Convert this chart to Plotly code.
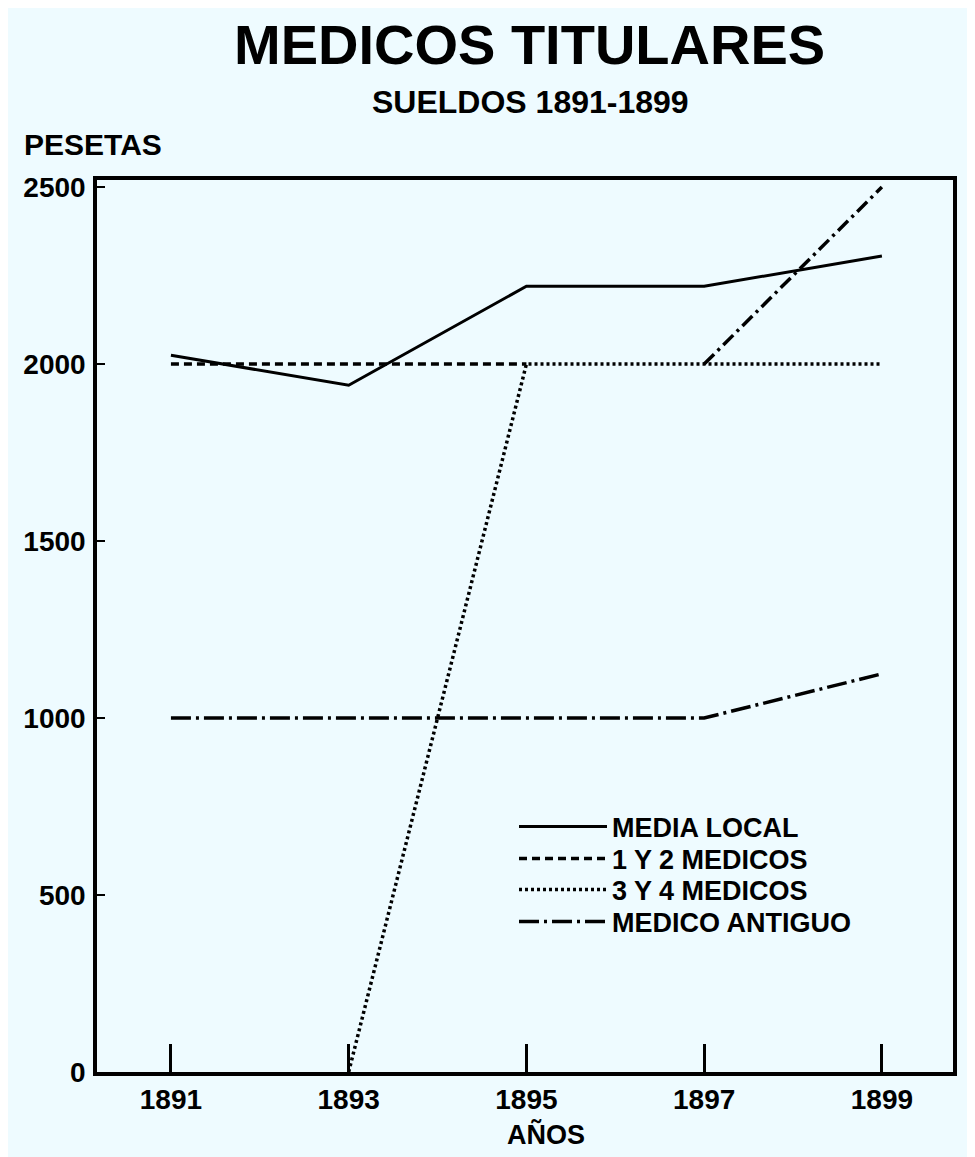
import plotly.graph_objects as go

# ---- data ----
years = [1891, 1893, 1895, 1897, 1899]
media_local = [2025, 1940, 2220, 2220, 2305]
uno_dos_medicos = [2000, 2000, 2000, None, None]
tres_cuatro_medicos = [None, 0, 2000, 2000, 2000]
medico_antiguo = [1000, 1000, 1000, 1000, 1125]
medico_antiguo_b = [None, None, None, 2000, 2500]
y_ticks = [0, 500, 1000, 1500, 2000, 2500]
x_ticks = [1891, 1893, 1895, 1897, 1899]

BG = "#eefbff"
FONT = "Liberation Sans"

W, H = 975, 1157
OFF = 8  # page body margin
L, T = 97 - OFF, 180 - OFF
R = W + OFF - 953
B = H + OFF - 1072
PW, PH = W - L - R, H - T - B


def px(xp):
    return (xp - OFF - L) / PW


def py(yp):
    return (H - B - (yp - OFF)) / PH


fig = go.Figure()
fig.add_trace(go.Scatter(x=years, y=media_local, mode="lines", name="MEDIA LOCAL",
                         legend="legend",
                         line=dict(color="black", width=3)))
fig.add_trace(go.Scatter(x=years, y=uno_dos_medicos, mode="lines", name="1 Y 2 MEDICOS",
                         legend="legend2",
                         line=dict(color="black", width=3.5, dash="8px,5px")))
fig.add_trace(go.Scatter(x=years, y=tres_cuatro_medicos, mode="lines", name="3 Y 4 MEDICOS",
                         legend="legend3",
                         line=dict(color="black", width=3.5, dash="3px,3px")))
fig.add_trace(go.Scatter(x=years, y=medico_antiguo, mode="lines", name="MEDICO ANTIGUO",
                         legend="legend4",
                         line=dict(color="black", width=3.5, dash="20px,5px,3px,5px")))
fig.add_trace(go.Scatter(x=years, y=medico_antiguo_b, mode="lines", name="MEDICO ANTIGUO",
                         showlegend=False,
                         line=dict(color="black", width=3.5, dash="14px,5px,3px,5px")))

legend_font = dict(family=FONT, size=27, weight="bold")


def leg(ypix):
    return dict(x=px(514), y=py(ypix), xanchor="left", yanchor="middle",
                bgcolor="rgba(0,0,0,0)", itemwidth=88, font=legend_font)


fig.update_layout(
    width=W, height=H,
    margin=dict(l=L, r=R, t=T, b=B),
    paper_bgcolor=BG,
    plot_bgcolor=BG,
    font=dict(family=FONT, color="black", size=28, weight="bold"),
    showlegend=True,
    legend=leg(827),
    legend2=leg(859),
    legend3=leg(890),
    legend4=leg(922),
    xaxis=dict(range=[1890.168, 1899.80], tickvals=x_ticks, ticktext=[str(v) for v in x_ticks],
               ticks="inside", ticklen=28, tickwidth=3, tickcolor="black",
               showline=True, linewidth=3.5, linecolor="black", mirror=True,
               showgrid=False, zeroline=False,
               tickfont=dict(family=FONT, size=28, weight="bold")),
    yaxis=dict(range=[0, 2520], tickvals=y_ticks, ticktext=[str(v) for v in y_ticks],
               ticks="inside", ticklen=8, tickwidth=2, tickcolor="black",
               showline=True, linewidth=3.5, linecolor="black", mirror=True,
               showgrid=False, zeroline=False, ticklabelstandoff=2,
               tickfont=dict(family=FONT, size=28, weight="bold")),
    annotations=[
        dict(text="MEDICOS TITULARES", x=px(529), y=py(44), xref="paper", yref="paper",
             xanchor="center", yanchor="middle", showarrow=False,
             font=dict(family=FONT, size=56, weight="bold")),
        dict(text="SUELDOS 1891-1899", x=px(530), y=py(102), xref="paper", yref="paper",
             xanchor="center", yanchor="middle", showarrow=False,
             font=dict(family=FONT, size=32, weight="bold")),
        dict(text="PESETAS", x=px(22), y=py(145), xref="paper", yref="paper",
             xanchor="left", yanchor="middle", showarrow=False,
             font=dict(family=FONT, size=30, weight="bold")),
        dict(text="AÑOS", x=px(546), y=py(1134), xref="paper", yref="paper",
             xanchor="center", yanchor="middle", showarrow=False,
             font=dict(family=FONT, size=27, weight="bold")),
    ],
)

fig.write_html("out.html")
